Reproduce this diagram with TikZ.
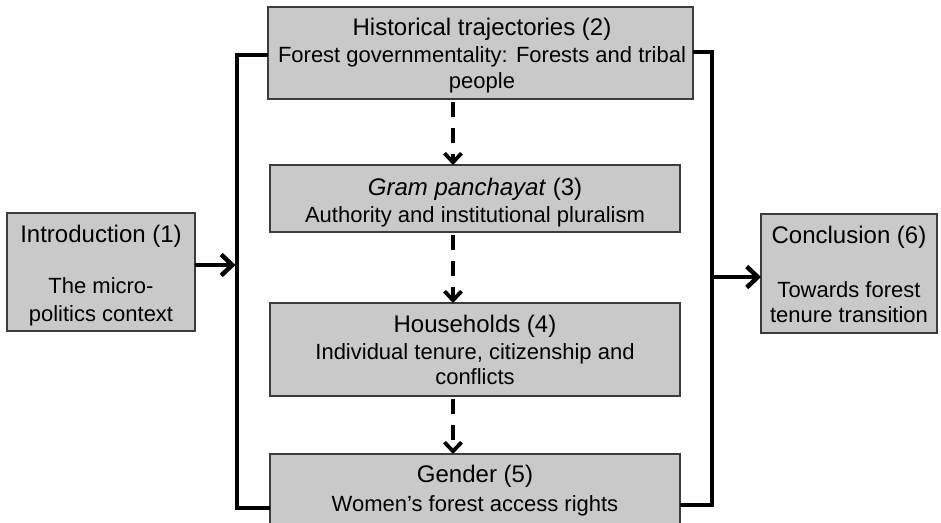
\documentclass[tikz,border=0pt]{standalone}
\usepackage{fontspec}
\setmainfont{Liberation Sans}
\usetikzlibrary{arrows.meta}
\definecolor{boxfill}{RGB}{201,201,201}
\definecolor{boxline}{RGB}{60,60,60}
\tikzset{
  box/.style={draw=boxline, line width=1.2pt, fill=boxfill, rectangle, inner sep=0pt, outer sep=0pt, anchor=north west},
  ttl/.style={anchor=base, inner sep=0pt, font=\fontsize{24}{27}\selectfont},
  sub/.style={anchor=base, inner sep=0pt, font=\fontsize{22}{26}\selectfont},
  dasharrow/.style={line width=3.8pt, dash pattern=on 15pt off 11pt, dash phase=-3pt, -{Straight Barb[length=9pt,width=17pt]}},
  solidarrow/.style={line width=4.5pt, -{Straight Barb[length=11pt,width=21pt]}},
  bracket/.style={line width=4.5pt, line join=miter}
}
\begin{document}
\begin{tikzpicture}[x=1pt,y=-1pt]
\useasboundingbox (0,0) rectangle (941,522);
\clip (0,0) rectangle (941,522);
% boxes
\node[box, minimum width=188pt, minimum height=118pt] (intro) at (7,213) {};
\node[box, minimum width=425pt, minimum height=92pt] (hist) at (268,7) {};
\node[box, minimum width=410pt, minimum height=67pt] (gram) at (270,165) {};
\node[box, minimum width=410pt, minimum height=93pt] (house) at (270,303) {};
\node[box, minimum width=410pt, minimum height=95pt] (gender) at (270,454) {};
\node[box, minimum width=176pt, minimum height=119pt] (concl) at (761,214) {};
% texts
\node[ttl] (t1a) at (101,242) {Introduction (1)};
\node[sub] (t1b) at (101,293) {The micro-};
\node[sub] (t1c) at (101,321) {politics context};
\node[ttl] (t2a) at (482,35) {Historical trajectories (2)};
\node[sub] (t2b) at (482,62) {Forest governmentality: Forests and tribal};
\node[sub] (t2c) at (482,88) {people};
\node[ttl] (t3a) at (475,195) {\textit{Gram panchayat} (3)};
\node[sub] (t3b) at (475,222) {Authority and institutional pluralism};
\node[ttl] (t4a) at (475,332) {Households (4)};
\node[sub] (t4b) at (475,359) {Individual tenure, citizenship and};
\node[sub] (t4c) at (475,384) {conflicts};
\node[ttl] (t5a) at (475,482) {Gender (5)};
\node[sub] (t5b) at (475,511) {Women’s forest access rights};
\node[ttl] (t6a) at (849,243) {Conclusion (6)};
\node[sub] (t6b) at (849,297) {Towards forest};
\node[sub] (t6c) at (849,322) {tenure transition};
% bracket coordinates
\coordinate (ax) at (453,0);
\coordinate (lt) at (237,55);
\coordinate (lb) at (237,508);
\coordinate (li) at (237,265);
\coordinate (rt) at (712,52);
\coordinate (rb) at (712,505);
\coordinate (ri) at (712,277);
% brackets
\draw[bracket] (hist.west |- lt) -- (lt) -- (lb) -- (gender.west |- lb);
\draw[bracket] (hist.east |- rt) -- (rt) -- (rb) -- (gender.east |- rb);
% solid arrows
\draw[solidarrow] (intro.east |- li) -- ([xshift=-1.5pt]li);
\draw[solidarrow] (ri) -- (concl.west |- ri);
% dashed arrows
\draw[dasharrow] (hist.south -| ax) -- (gram.north -| ax);
\draw[dasharrow] (gram.south -| ax) -- (house.north -| ax);
\draw[dasharrow] (house.south -| ax) -- (gender.north -| ax);
\end{tikzpicture}
\end{document}
